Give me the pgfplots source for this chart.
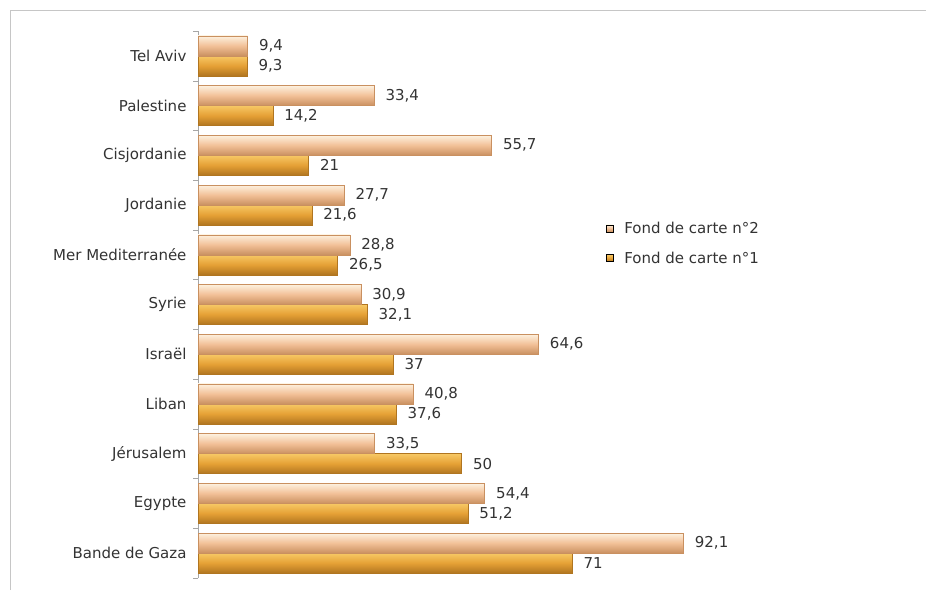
\documentclass[border=0pt]{standalone}
\usepackage{fontspec}
\setmainfont{DejaVu Sans}
\usepackage{pgfplots}
\pgfplotsset{compat=1.18}
\definecolor{ltTop}{HTML}{FDF1DF}
\definecolor{ltMid}{HTML}{F2C097}
\definecolor{ltBot}{HTML}{C99060}
\definecolor{dkTop}{HTML}{F7C865}
\definecolor{dkMid}{HTML}{E5A035}
\definecolor{dkBot}{HTML}{B07520}
\definecolor{txt}{HTML}{333333}
\pgfplotsset{
  sA/.style={xbar, bar width=20pt, bar shift=-10pt, forget plot,
    top color=dkTop, bottom color=dkBot, middle color=dkMid, draw=dkBot, line width=0.4pt,
    every node near coord/.append style={yshift=-10pt}},
  sB/.style={xbar, bar width=20pt, bar shift=10pt, forget plot,
    top color=ltTop, bottom color=ltBot, middle color=ltMid, draw=ltBot, line width=0.4pt,
    every node near coord/.append style={yshift=10pt}},
}
\begin{document}
\begin{tikzpicture}[x=1pt,y=1pt]
\path[use as bounding box] (0,0) rectangle (926,590);
\draw[gray!45, line width=1pt] (10,0) -- (10,579) -- (926,579);
\begin{axis}[
  at={(198pt,12pt)}, anchor=south west,
  scale only axis, width=527pt, height=547pt,
  xmin=0, xmax=100, ymin=-0.5, ymax=10.5,
  clip=false,
  axis x line=none, axis y line*=left,
  y axis line style={gray!70},
  ytick={0,1,2,3,4,5,6,7,8,9,10},
  yticklabels={Bande de Gaza, Egypte, Jérusalem, Liban, Israël, Syrie, Mer Mediterranée, Jordanie, Cisjordanie, Palestine, Tel Aviv},
  major tick length=0pt,
  minor ytick={-0.5,0.5,1.5,2.5,3.5,4.5,5.5,6.5,7.5,8.5,9.5,10.5},
  minor tick length=5pt,
  tick align=outside,
  every tick/.style={gray!70},
  yticklabel style={xshift=-8pt, text=txt},
  font=\fontsize{15}{18}\selectfont,
  point meta=x,
  nodes near coords={\pgfmathprintnumber[fixed,precision=1,use comma,assume math mode=true]{\pgfplotspointmeta}},
  nodes near coords style={anchor=west, xshift=8pt, text=txt, font=\fontsize{15}{18}\selectfont},
  legend style={at={(rel axis cs:0.768,0.612)}, anchor=west, draw=none, fill=none,
    font=\fontsize{15}{18}\selectfont, text=txt, row sep=13pt,
    /tikz/every odd column/.append style={column sep=9pt}},
  legend cell align=left,
]
% Fond de carte n°1
\addplot[sA] coordinates {(71,0)};
\addplot[sA] coordinates {(51.2,1)};
\addplot[sA] coordinates {(50,2)};
\addplot[sA] coordinates {(37.6,3)};
\addplot[sA] coordinates {(37,4)};
\addplot[sA] coordinates {(32.1,5)};
\addplot[sA] coordinates {(26.5,6)};
\addplot[sA] coordinates {(21.6,7)};
\addplot[sA] coordinates {(21,8)};
\addplot[sA] coordinates {(14.2,9)};
\addplot[sA] coordinates {(9.3,10)};
% Fond de carte n°2
\addplot[sB] coordinates {(92.1,0)};
\addplot[sB] coordinates {(54.4,1)};
\addplot[sB] coordinates {(33.5,2)};
\addplot[sB] coordinates {(40.8,3)};
\addplot[sB] coordinates {(64.6,4)};
\addplot[sB] coordinates {(30.9,5)};
\addplot[sB] coordinates {(28.8,6)};
\addplot[sB] coordinates {(27.7,7)};
\addplot[sB] coordinates {(55.7,8)};
\addplot[sB] coordinates {(33.4,9)};
\addplot[sB] coordinates {(9.4,10)};
\addlegendimage{legend image code/.code={\path[top color=ltTop, bottom color=ltBot, middle color=ltMid] (0pt,-3.5pt) rectangle (7pt,3.5pt);}}
\addlegendentry{Fond de carte n°2}
\addlegendimage{legend image code/.code={\path[top color=dkTop, bottom color=dkBot, middle color=dkMid] (0pt,-3.5pt) rectangle (7pt,3.5pt);}}
\addlegendentry{Fond de carte n°1}
\end{axis}
\end{tikzpicture}
\end{document}
